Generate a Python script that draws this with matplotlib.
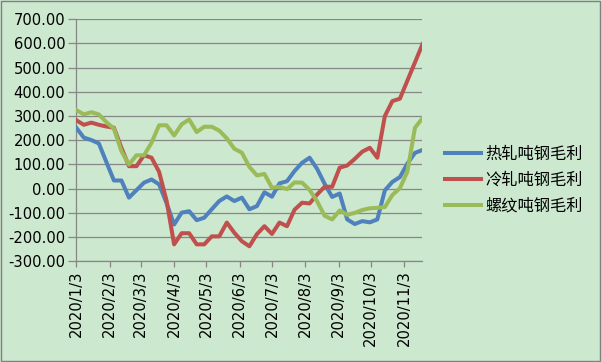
import numpy as np
import pandas as pd
import matplotlib
matplotlib.use("Agg")
from matplotlib import pyplot as plt
from matplotlib.patches import Rectangle

plt.rcParams['font.family'] = ['DejaVu Sans', 'Noto Sans CJK SC']

# weekly data, 2020/1/3 - 2020/11/20
dates = pd.date_range('2020-01-03', periods=47, freq='7D')

hot_rolled = [252, 211, 201, 187, 110, 34, 34, -37, -6, 25,
              38, 18, -60, -148, -99, -93, -130, -120, -85, -51,
              -32, -51, -37, -85, -72, -15, -33, 22, 31, 73,
              107, 128, 82, 20, -34, -20, -127, -146, -134, -139,
              -127, -7, 28, 48, 104, 148, 160]

cold_rolled = [283, 264, 273, 264, 257, 252, 169, 93, 93, 138,
               128, 70, -50, -230, -184, -184, -230, -230, -197, -197,
               -140, -182, -217, -238, -188, -155, -187, -140, -155, -87,
               -58, -61, -24, 8, 8, 87, 96, 123, 153, 169,
               128, 300, 362, 372, 447, 522, 597]

rebar = [325, 307, 316, 307, 275, 248, 155, 100, 138, 138,
         190, 262, 262, 220, 266, 286, 234, 256, 256, 240,
         208, 165, 149, 90, 55, 61, 4, 8, -2, 26,
         25, -5, -52, -112, -127, -90, -108, -100, -88, -81,
         -79, -76, -26, 2, 71, 252, 291]

series_names = ['热轧吨钢毛利', '冷轧吨钢毛利', '螺纹吨钢毛利']
series_colors = ['#4F81BD', '#C0504D', '#9BBB59']

tick_dates = pd.to_datetime(['2020-%d-03' % m for m in range(1, 12)])
tick_labels = ['2020/%d/3' % m for m in range(1, 12)]

bg = '#CCE8CF'
grid_c = '#878787'

fig = plt.figure(figsize=(6.02, 3.62), dpi=100, facecolor=bg)
ax = fig.add_axes([0.1267, 0.2782, 0.5751, 0.6685])
ax.set_facecolor(bg)

for vals, name, col in zip([hot_rolled, cold_rolled, rebar], series_names, series_colors):
    ax.plot(dates, vals, color=col, lw=2.9, label=name, solid_joinstyle='round', zorder=3)

ax.set_ylim(-300, 700)
ax.set_yticks(np.arange(-300, 701, 100))
ax.set_yticklabels(['%.2f' % v for v in np.arange(-300, 701, 100)])
ax.set_xlim(dates[0], dates[-1])
ax.set_xticks(tick_dates)
ax.set_xticklabels(tick_labels, rotation=90)

ax.grid(axis='y', color=grid_c, lw=0.9)
ax.set_axisbelow(True)
for s in ['top', 'right']:
    ax.spines[s].set_visible(False)
for s in ['left', 'bottom']:
    ax.spines[s].set_color(grid_c)
    ax.spines[s].set_linewidth(0.9)

ax.tick_params(axis='y', length=6, width=0.9, color=grid_c, pad=2, labelsize=10.6)
ax.tick_params(axis='x', length=4, width=0.9, color=grid_c, pad=2.5, labelsize=10.6)

fig.legend(loc='center left', bbox_to_anchor=(0.739, 0.503), frameon=False,
           borderpad=0, borderaxespad=0, handlelength=2.2, handletextpad=0.3,
           labelspacing=0.55, prop={'family': ['Noto Sans CJK SC'], 'size': 11.7})

fig.patches.append(Rectangle((0.002, 0.003), 0.995, 0.994, transform=fig.transFigure,
                             fill=False, edgecolor='#808080', lw=1))

fig.savefig('out.png', dpi=100, facecolor=bg)
